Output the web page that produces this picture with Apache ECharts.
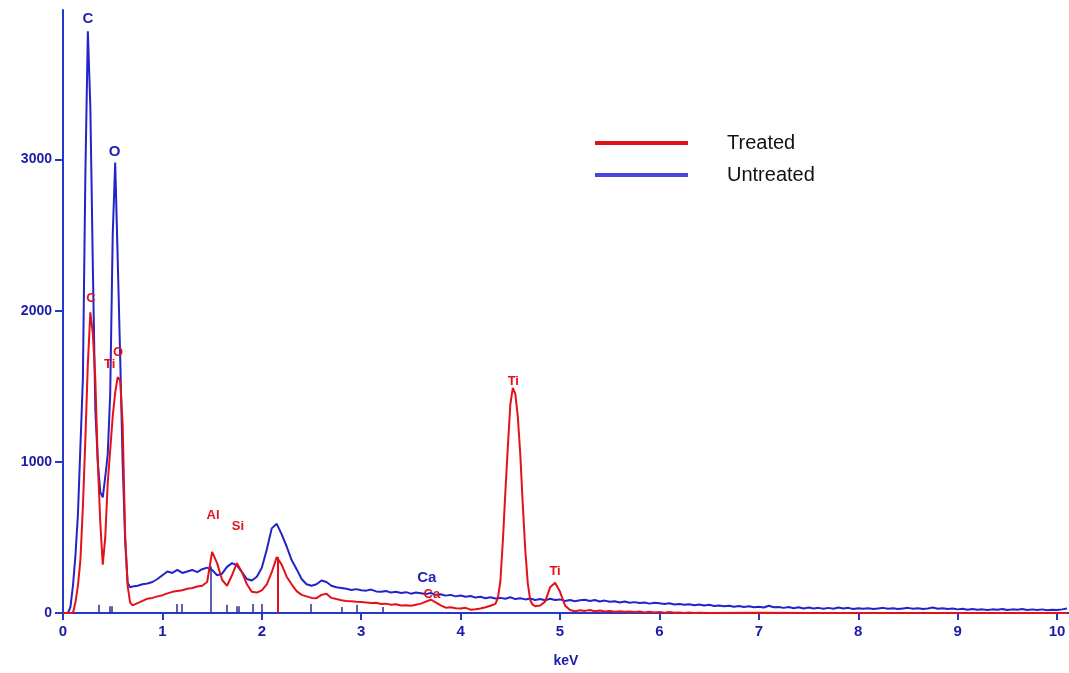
<!DOCTYPE html>
<html>
<head>
<meta charset="utf-8">
<title>EDS spectrum</title>
<script src="https://cdn.jsdelivr.net/npm/echarts@6/dist/echarts.min.js"></script>
<style>
  html, body { margin: 0; padding: 0; background: #fff; }
  #chart { width: 1069px; height: 673px; }
</style>
</head>
<body>
<div id="chart"></div>
<script>
// [keV, counts]
const untreated = [
  [0, 0], [0.025, 0], [0.05, 0], [0.075, 40], [0.1, 180], [0.125, 380], [0.15, 650], [0.175, 1100],
  [0.2, 1550], [0.225, 2900], [0.25, 3850], [0.275, 3350], [0.3, 2300], [0.325, 1350], [0.35, 1000],
  [0.375, 800], [0.4, 765], [0.425, 900], [0.45, 1050], [0.475, 1450], [0.5, 2500], [0.525, 2980],
  [0.55, 2350], [0.575, 1700], [0.6, 1000], [0.625, 480], [0.65, 200], [0.675, 170], [0.7, 175],
  [0.75, 180], [0.8, 190], [0.85, 195], [0.9, 205], [0.95, 225], [1.0, 250], [1.05, 275], [1.1, 265],
  [1.15, 285], [1.2, 265], [1.25, 275], [1.3, 285], [1.35, 270], [1.4, 290], [1.45, 300], [1.5, 285],
  [1.55, 250], [1.6, 260], [1.65, 305], [1.7, 330], [1.75, 315], [1.8, 270], [1.85, 225], [1.9, 215],
  [1.95, 240], [2.0, 300], [2.05, 420], [2.1, 560], [2.15, 590], [2.2, 520], [2.25, 440], [2.3, 350],
  [2.35, 290], [2.4, 225], [2.45, 190], [2.5, 180], [2.55, 190], [2.6, 215], [2.65, 205], [2.7, 180],
  [2.75, 170], [2.8, 165], [2.85, 160], [2.9, 152], [2.95, 158], [3.0, 150], [3.05, 148], [3.1, 155],
  [3.15, 143], [3.2, 140], [3.25, 146], [3.3, 135], [3.35, 140], [3.4, 132], [3.45, 138], [3.5, 128],
  [3.55, 135], [3.6, 130], [3.65, 125], [3.7, 132], [3.75, 120], [3.8, 124], [3.85, 115], [3.9, 120],
  [3.95, 110], [4.0, 116], [4.05, 108], [4.1, 112], [4.15, 102], [4.2, 108], [4.25, 98], [4.3, 104],
  [4.35, 96], [4.4, 100], [4.45, 94], [4.5, 104], [4.55, 92], [4.6, 98], [4.65, 90], [4.7, 96],
  [4.75, 86], [4.8, 92], [4.85, 84], [4.9, 94], [4.95, 86], [5.0, 90], [5.05, 80], [5.1, 86],
  [5.15, 78], [5.2, 84], [5.25, 88], [5.3, 80], [5.35, 86], [5.4, 76], [5.45, 82], [5.5, 74],
  [5.55, 78], [5.6, 70], [5.65, 76], [5.7, 68], [5.75, 72], [5.8, 66], [5.85, 70], [5.9, 62],
  [5.95, 68], [6.0, 64], [6.05, 60], [6.1, 64], [6.15, 56], [6.2, 60], [6.25, 54], [6.3, 58],
  [6.35, 52], [6.4, 56], [6.45, 50], [6.5, 54], [6.55, 46], [6.6, 50], [6.65, 44], [6.7, 48],
  [6.75, 42], [6.8, 46], [6.85, 40], [6.9, 44], [6.95, 38], [7.0, 42], [7.05, 36], [7.1, 48],
  [7.15, 38], [7.2, 40], [7.25, 34], [7.3, 40], [7.35, 32], [7.4, 38], [7.45, 30], [7.5, 36],
  [7.55, 30], [7.6, 34], [7.65, 28], [7.7, 34], [7.75, 28], [7.8, 36], [7.85, 30], [7.9, 34],
  [7.95, 26], [8.0, 32], [8.05, 28], [8.1, 32], [8.15, 26], [8.2, 30], [8.25, 34], [8.3, 28],
  [8.35, 32], [8.4, 26], [8.45, 30], [8.5, 34], [8.55, 28], [8.6, 32], [8.65, 26], [8.7, 30],
  [8.75, 36], [8.8, 28], [8.85, 32], [8.9, 26], [8.95, 30], [9.0, 24], [9.05, 28], [9.1, 22],
  [9.15, 26], [9.2, 22], [9.25, 24], [9.3, 20], [9.35, 24], [9.4, 22], [9.45, 26], [9.5, 20],
  [9.55, 24], [9.6, 22], [9.65, 26], [9.7, 20], [9.75, 24], [9.8, 20], [9.85, 24], [9.9, 18],
  [9.95, 22], [10.0, 20], [10.05, 24], [10.1, 30]
];

const treated = [
  [0, 0], [0.025, 0], [0.05, 0], [0.075, 0], [0.1, 0], [0.125, 70], [0.15, 180], [0.175, 350],
  [0.2, 700], [0.225, 1150], [0.25, 1650], [0.275, 1990], [0.3, 1850], [0.325, 1550], [0.35, 1000],
  [0.375, 600], [0.4, 320], [0.425, 500], [0.45, 860], [0.475, 1080], [0.5, 1300], [0.525, 1460],
  [0.55, 1560], [0.575, 1540], [0.6, 1250], [0.625, 520], [0.65, 180], [0.675, 70], [0.7, 50],
  [0.75, 65], [0.8, 80], [0.85, 95], [0.9, 100], [0.95, 110], [1.0, 118], [1.05, 130], [1.1, 140],
  [1.15, 145], [1.2, 150], [1.25, 160], [1.3, 165], [1.35, 175], [1.4, 180], [1.45, 205], [1.5, 405],
  [1.55, 330], [1.6, 220], [1.65, 180], [1.7, 250], [1.75, 330], [1.8, 270], [1.85, 190], [1.9, 140],
  [1.95, 135], [2.0, 150], [2.05, 190], [2.1, 270], [2.15, 370], [2.2, 320], [2.25, 240], [2.3, 190],
  [2.35, 145], [2.4, 120], [2.45, 110], [2.5, 100], [2.55, 98], [2.6, 120], [2.65, 128], [2.7, 100],
  [2.75, 92], [2.8, 85], [2.85, 80], [2.9, 78], [2.95, 74], [3.0, 72], [3.05, 70], [3.1, 66],
  [3.15, 68], [3.2, 60], [3.25, 62], [3.3, 55], [3.35, 58], [3.4, 50], [3.45, 52], [3.5, 48],
  [3.55, 55], [3.6, 62], [3.65, 75], [3.7, 88], [3.75, 70], [3.8, 50], [3.85, 35], [3.9, 38],
  [3.95, 32], [4.0, 30], [4.05, 34], [4.1, 22], [4.15, 25], [4.2, 30], [4.25, 38], [4.3, 48],
  [4.35, 60], [4.375, 100], [4.4, 210], [4.425, 480], [4.45, 800], [4.475, 1100], [4.5, 1380],
  [4.525, 1490], [4.55, 1450], [4.575, 1300], [4.6, 1050], [4.625, 720], [4.65, 420], [4.675, 200],
  [4.7, 85], [4.725, 55], [4.75, 45], [4.8, 50], [4.85, 75], [4.9, 170], [4.95, 200], [5.0, 140],
  [5.05, 50], [5.1, 20], [5.15, 12], [5.2, 18], [5.25, 14], [5.3, 20], [5.35, 12], [5.4, 16],
  [5.45, 10], [5.5, 14], [5.55, 8], [5.6, 12], [5.65, 8], [5.7, 10], [5.75, 6], [5.8, 10],
  [5.85, 4], [5.9, 8], [5.95, 4], [6.0, 6], [6.05, 2], [6.1, 6], [6.15, 2], [6.2, 4], [6.25, 0],
  [6.3, 4], [6.35, 0], [6.4, 2], [6.5, 0], [7.0, 2], [7.5, 0], [8.0, 0], [9.0, 0], [10.1, 0]
];

// element marker lines at the baseline [keV, height]
const untreatedMarkers = [
  [0.355, 55], [0.47, 45], [0.49, 45], [1.14, 60], [1.19, 60], [1.49, 310], [1.65, 55], [1.75, 45],
  [1.77, 45], [1.91, 60], [2.0, 60], [2.49, 60], [2.8, 40], [2.95, 55], [3.22, 40]
];
const treatedMarkers = [[2.16, 370]];

// peak labels [text, keV, counts]
const untreatedLabels = [['C', 0.25, 3930], ['O', 0.52, 3050], ['Ca', 3.66, 231]];
const treatedLabels = [
  ['C', 0.28, 2080], ['Ti', 0.47, 1644], ['O', 0.555, 1725], ['Al', 1.51, 647], ['Si', 1.76, 574],
  ['Ca', 3.71, 125], ['Ti', 4.53, 1531], ['Ti', 4.95, 277]
];

const BLUE = '#2323c8';
const RED = '#e3121a';
const AXIS_BLUE = '#2438cc';
const LABEL_BLUE = '#1b1ba8';
const FONT = 'Liberation Sans, Arial, sans-serif';

const markerLines = (markers) =>
  markers.map((m) => [{ coord: [m[0], 0] }, { coord: [m[0], m[1]] }]);

// scatter defaults to 0.8 opacity, which also fades its labels
const labelSeries = (labels, color, size) => ({
  type: 'scatter',
  symbolSize: 0,
  silent: true,
  z: 5,
  itemStyle: { opacity: 1 },
  data: labels.map((l) => ({ value: [l[1], l[2]], name: l[0] })),
  label: {
    show: true,
    position: 'inside',
    formatter: (p) => p.name,
    color,
    opacity: 1,
    textBorderWidth: 0,
    fontSize: size,
    fontWeight: 'bold',
    fontFamily: FONT,
  },
});

const chart = echarts.init(document.getElementById('chart'), null, { renderer: 'canvas' });

const option = {
  animation: false,
  backgroundColor: '#fff',
  grid: { left: 63, right: 0, top: 10, bottom: 58 },
  legend: {
    orient: 'vertical',
    left: 595,
    top: 132,
    padding: 0,
    itemWidth: 93,
    itemHeight: 4,
    itemGap: 10,
    icon: 'rect',
    textStyle: { fontSize: 20, lineHeight: 22, color: '#111', fontFamily: FONT, padding: [0, 0, 0, 34] },
    data: [
      { name: 'Treated', itemStyle: { color: '#e3121a' } },
      { name: 'Untreated', itemStyle: { color: '#4646dc' } },
    ],
  },
  xAxis: {
    type: 'value',
    min: 0,
    max: 10.12,
    interval: 1,
    name: 'keV',
    nameLocation: 'middle',
    nameGap: 41,
    nameTextStyle: { color: LABEL_BLUE, fontSize: 14, fontWeight: 'bold', fontFamily: FONT },
    axisLine: { lineStyle: { color: AXIS_BLUE, width: 2 } },
    axisTick: { length: 7, lineStyle: { color: AXIS_BLUE, width: 2 } },
    axisLabel: { margin: 11, showMaxLabel: false, color: LABEL_BLUE, fontSize: 15, fontWeight: 'bold', fontFamily: FONT },
    splitLine: { show: false },
  },
  yAxis: {
    type: 'value',
    min: 0,
    max: 3990,
    interval: 1000,
    axisLine: { show: true, lineStyle: { color: AXIS_BLUE, width: 2 } },
    axisTick: { show: true, length: 8, lineStyle: { color: AXIS_BLUE, width: 2 } },
    axisLabel: {
      margin: 11,
      showMaxLabel: false,
      formatter: (v) => String(v),
      color: LABEL_BLUE,
      fontSize: 14,
      fontWeight: 'bold',
      fontFamily: FONT,
    },
    splitLine: { show: false },
  },
  series: [
    {
      name: 'Untreated',
      type: 'line',
      data: untreated,
      showSymbol: false,
      color: BLUE,
      lineStyle: { color: BLUE, width: 2 },
      markLine: {
        silent: true,
        symbol: 'none',
        label: { show: false },
        lineStyle: { color: '#2a2a9a', width: 1.5, type: 'solid' },
        data: markerLines(untreatedMarkers),
      },
    },
    {
      name: 'Treated',
      type: 'line',
      data: treated,
      showSymbol: false,
      color: RED,
      lineStyle: { color: RED, width: 2 },
      markLine: {
        silent: true,
        symbol: 'none',
        label: { show: false },
        lineStyle: { color: RED, width: 2, type: 'solid' },
        data: markerLines(treatedMarkers),
      },
    },
    labelSeries(untreatedLabels, '#2323b4', 15),
    labelSeries(treatedLabels, RED, 13),
  ],
};

chart.setOption(option);
</script>
</body>
</html>
